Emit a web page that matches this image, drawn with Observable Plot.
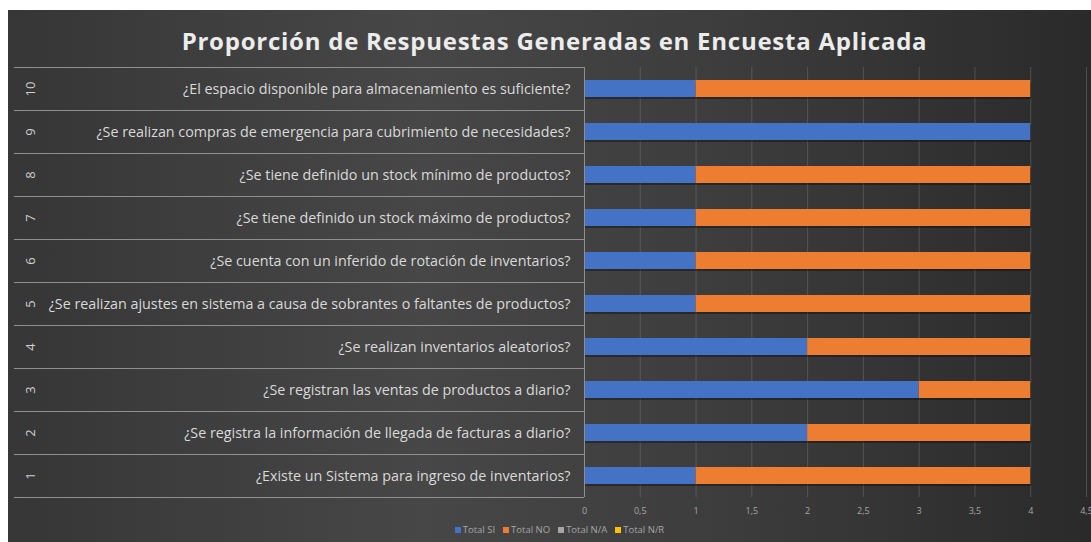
<!DOCTYPE html>
<html><head><meta charset="utf-8">
<script src="https://cdn.jsdelivr.net/npm/d3@7"></script>
<script src="https://cdn.jsdelivr.net/npm/@observablehq/plot@0.6"></script>
<style>
html,body{margin:0;padding:0;background:#fff;width:1091px;height:542px;overflow:hidden;font-family:"Open Sans",sans-serif;}
#card{position:absolute;left:8px;top:10px;width:1083px;height:532px;background:linear-gradient(90deg,#363636 0%,#474747 38%,#3d3d3d 65%,#2a2a2a 100%);}
#title{position:absolute;left:10px;top:0;width:1073px;height:52px;text-align:center;color:#ececec;font-weight:700;font-size:24px;line-height:62px;letter-spacing:0.75px}
#chart{position:absolute;left:0;top:52px}
#legend{position:absolute;left:10px;top:514px;width:100%;text-align:center;font-size:9.5px;line-height:12px;color:#a6a6a6}
#legend span.item{margin:0 4px;white-space:nowrap}
#legend span.sw{display:inline-block;width:6px;height:6px;margin-right:2px;vertical-align:0px}
</style></head>
<body>
<div id="card">
  <div id="title">Proporción de Respuestas Generadas en Encuesta Aplicada</div>
  <div id="chart"></div>
  <div id="legend"></div>
</div>
<script>
const ids = [1,2,3,4,5,6,7,8,9,10];
const questions = [
  "¿Existe un Sistema para ingreso de inventarios?",
  "¿Se registra la información de llegada de facturas a diario?",
  "¿Se registran las ventas de productos a diario?",
  "¿Se realizan inventarios aleatorios?",
  "¿Se realizan ajustes en sistema a causa de sobrantes o faltantes de productos?",
  "¿Se cuenta con un inferido de rotación de inventarios?",
  "¿Se tiene definido un stock máximo de productos?",
  "¿Se tiene definido un stock mínimo de productos?",
  "¿Se realizan compras de emergencia para cubrimiento de necesidades?",
  "¿El espacio disponible para almacenamiento es suficiente?"
];
const totalSI = [1,2,3,2,1,1,1,1,4,1];
const totalNO = [3,2,1,2,3,3,3,3,0,3];
const totalNA = [0,0,0,0,0,0,0,0,0,0];
const totalNR = [0,0,0,0,0,0,0,0,0,0];
const seriesNames = ["Total SI","Total NO","Total N/A","Total N/R"];
const seriesColors = ["#4472c4","#ed7d31","#a5a5a5","#ffc000"];
const xTicks = [0,0.5,1,1.5,2,2.5,3,3.5,4,4.5];

const seriesValues = [totalSI,totalNO,totalNA,totalNR];
const tidy = [];
questions.forEach((q,i)=>seriesNames.forEach((s,j)=>tidy.push({q, series:s, value:seriesValues[j][i]})));
const rows = questions.map((q,i)=>({q, id:String(ids[i])}));
const yDomain = questions.slice().reverse();

const chart = Plot.plot({
  width: 1083, height: 460,
  marginLeft: 576, marginRight: 5, marginTop: 5, marginBottom: 25,
  style: {background:"transparent", color:"#a6a6a6", fontFamily:"Open Sans", fontSize:"9px", overflow:"visible"},
  x: {domain:[0,4.5]},
  y: {domain:yDomain, paddingInner:0.6, paddingOuter:0.3},
  color: {domain:seriesNames, range:seriesColors},
  marks: [
    Plot.gridX(xTicks.filter(d=>d>0), {stroke:"#6e6e6e", strokeOpacity:0.55}),
    Plot.barX(tidy, {y:"q", x:"value", fill:"#000", fillOpacity:0.35, dy:2, dx:1}),
    Plot.barX(tidy, {y:"q", x:"value", fill:"series", order:seriesNames}),
    Plot.ruleX([0], {stroke:"#8f8f8f"}),
    Plot.axisX({ticks:xTicks, tickSize:0, tickPadding:10, tickFormat:d=>String(d).replace(".",","), color:"#a6a6a6", label:null}),
    Plot.axisY({tickSize:0, tickPadding:14, fontSize:14.3, color:"#d9d9d9", label:null}),
    Plot.text(rows, {y:"q", text:"id", frameAnchor:"left", textAnchor:"middle", dx:-554, rotate:-90, fontSize:13, fill:"#cfcfcf"})
  ]
});

// row separators of the label table, positioned from the plot's own scales
const ys = chart.scale("y"), xs = chart.scale("x");
const step = ys.step, bw = ys.bandwidth;
const bounds = [];
yDomain.forEach((q,i)=>{ const c = ys.apply(q)+bw/2; if(i===0) bounds.push(c-step/2); bounds.push(c+step/2); });
const g = d3.select(chart).append("g").attr("stroke","#8f8f8f").attr("stroke-width",1);
bounds.forEach(y=>g.append("line").attr("x1",6).attr("x2",xs.apply(0)).attr("y1",Math.round(y)+0.5).attr("y2",Math.round(y)+0.5));
document.getElementById("chart").append(chart);

const lg = document.getElementById("legend");
seriesNames.forEach((s,i)=>{
  const it = document.createElement("span"); it.className="item";
  const sw = document.createElement("span"); sw.className="sw"; sw.style.background=seriesColors[i];
  it.append(sw, document.createTextNode(s)); lg.append(it);
});
</script>
</body></html>
